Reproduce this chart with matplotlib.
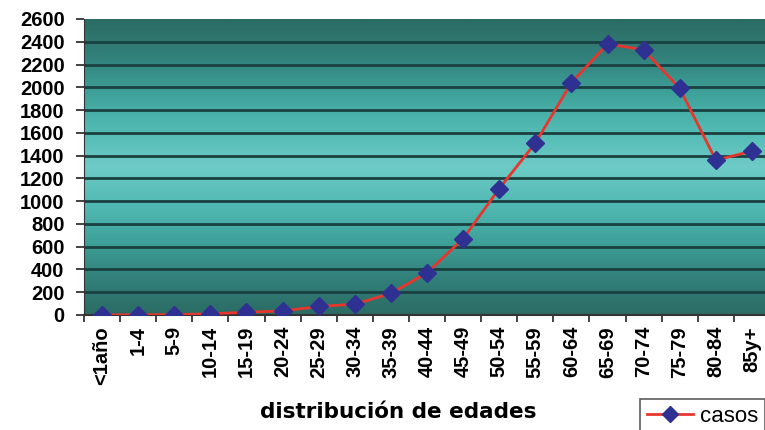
import numpy as np
import matplotlib
matplotlib.use("Agg")
import matplotlib.pyplot as plt
from matplotlib.colors import LinearSegmentedColormap

# ---- data ----
grupos = ["<1año", "1-4", "5-9", "10-14", "15-19", "20-24", "25-29", "30-34",
          "35-39", "40-44", "45-49", "50-54", "55-59", "60-64", "65-69",
          "70-74", "75-79", "80-84", "85y+"]
casos = [0, 2, 3, 10, 25, 35, 75, 95, 190, 370, 670, 1110, 1510, 2040,
         2380, 2330, 1990, 1360, 1440]
y_ticks = list(range(0, 2601, 200))

fig = plt.figure(figsize=(7.65, 4.3), dpi=100)
ax = fig.add_axes([84 / 765, 115 / 430, 686 / 765, 296 / 430])

x = np.arange(len(grupos))
ax.set_xlim(-0.5, len(grupos) - 0.5)
ax.set_ylim(0, 2600)

# teal gradient background, dark at top and bottom, light in the middle
bg = LinearSegmentedColormap.from_list(
    "teal", ["#2b6c64", "#32807a", "#3ea29a", "#52bab4", "#6ecbc7",
             "#52bab4", "#3ea29a", "#32807a", "#2b6c64"])
grad = np.linspace(0, 1, 256).reshape(-1, 1)
ax.imshow(grad, cmap=bg, aspect="auto", extent=[-0.5, len(grupos) - 0.5, 0, 2600],
          origin="lower", zorder=0)

for v in y_ticks[1:-1]:
    ax.axhline(v, color="#1a4040", lw=2, zorder=1)

ax.plot(x, casos, color="#e8362c", lw=2, marker="D", markersize=9,
        markerfacecolor="#2e3192", markeredgecolor="#2e3192", zorder=3,
        label="casos")

ax.set_yticks(y_ticks)
ax.set_yticklabels([str(v) for v in y_ticks], fontsize=14.5, fontweight="bold",
                   family="Liberation Sans")
ax.set_xticks(x)
ax.set_xticklabels(grupos, rotation=90, fontsize=14.5, fontweight="bold",
                   family="Liberation Sans", va="top")
ax.set_xticks(np.arange(-0.5, len(grupos), 1), minor=True)
ax.tick_params(axis="x", which="major", length=0, pad=8)
ax.tick_params(axis="x", which="minor", length=5, width=1.2, color="#222222")
ax.tick_params(axis="y", length=6, width=1.2, color="#222222", pad=8)

for s in ["top", "right"]:
    ax.spines[s].set_visible(False)
ax.spines["left"].set_color("#333333")
ax.spines["bottom"].set_color("#333333")
ax.spines["bottom"].set_linewidth(1.5)

fig.text(398 / 765, 1 - 412 / 430, "distribución de edades", ha="center",
         va="center", fontsize=15.5, fontweight="bold", family="DejaVu Sans")

leg = fig.legend(loc="upper left", bbox_to_anchor=(640 / 765, 1 - 399 / 430),
                 prop={"family": "Liberation Sans", "size": 16}, frameon=True,
                 fancybox=False, edgecolor="#333333", handlelength=2.1,
                 borderpad=0.3, borderaxespad=0, handletextpad=0.3,
                 markerscale=0.85)
leg.get_frame().set_linewidth(1.2)

fig.savefig("out.png", dpi=100)
